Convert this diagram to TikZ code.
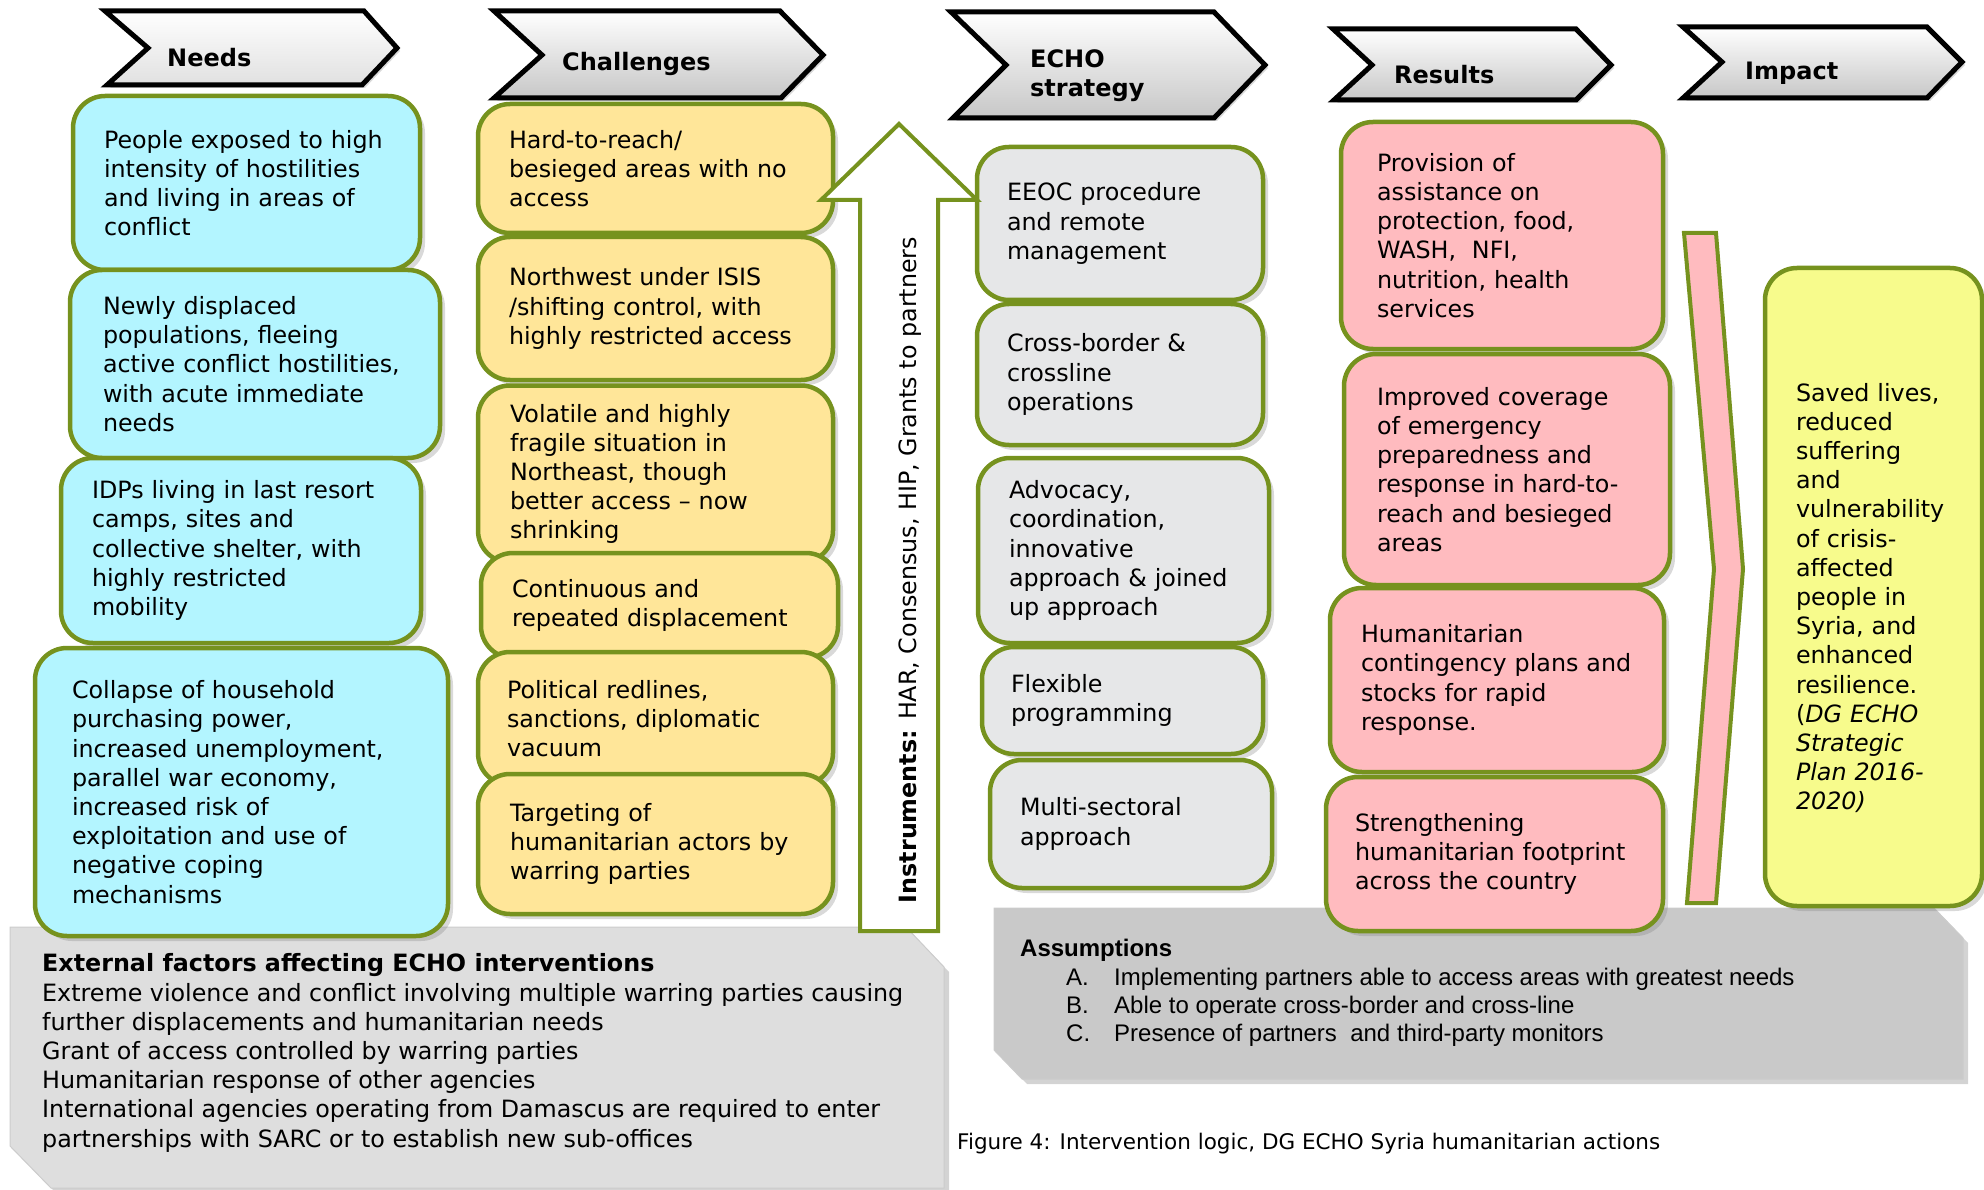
\documentclass[tikz,border=0pt]{standalone}
\usepackage{fontspec}
\setmainfont{DejaVu Sans}
\newfontfamily\arialfont{Liberation Sans}
\usetikzlibrary{positioning,shadows}
\definecolor{boxgreen}{HTML}{76921E}
\definecolor{needcyan}{HTML}{B3F5FF}
\definecolor{challyellow}{HTML}{FFE699}
\definecolor{stratgray}{HTML}{E6E7E8}
\definecolor{respink}{HTML}{FFBBBF}
\definecolor{impyellow}{HTML}{F7FB8C}
\definecolor{extgray}{HTML}{DEDEDE}
\definecolor{asmgray}{HTML}{C9C9C9}
\newcommand\boxfont{\fontsize{23.8}{29.2}\selectfont}
\tikzset{
  % rubriker
  hdr/.style={draw=black,line width=5pt,line join=miter,top color=white,
              bottom color=black!22,drop shadow={shadow xshift=3pt,shadow yshift=-3pt,opacity=.3}},
  hdrtxt/.style={font=\bfseries\fontsize{24}{29}\selectfont,inner sep=0pt,anchor=west,align=left},
  % rutor
  box/.style={draw=boxgreen,line width=4.5pt,rounded corners=32pt,align=left,
              font=\boxfont,inner ysep=0pt,
              drop shadow={shadow xshift=5pt,shadow yshift=-5pt,opacity=.3}},
  need/.style={box,fill=needcyan},
  chall/.style={box,fill=challyellow},
  strat/.style={box,fill=stratgray},
  res/.style={box,fill=respink},
  imp/.style={box,fill=impyellow},
  plate/.style={draw=black!20,line width=1pt,
                drop shadow={shadow xshift=5pt,shadow yshift=-5pt,opacity=.35}},
  instr/.style={draw=boxgreen,line width=4pt,fill=white,line join=miter},
  pinkarrow/.style={draw=boxgreen,line width=4pt,fill=respink,line join=miter},
  plaintxt/.style={font=\boxfont,inner sep=0pt,align=left},
}
\begin{document}
\begin{tikzpicture}[x=1pt,y=-1pt]
\useasboundingbox (0,0) rectangle (1984,1190);
% plattor nederst
\filldraw[plate,fill=extgray] (10,927) -- (906,927) -- (944,967) -- (944,1188)
  -- (51,1188) -- (10,1146) -- cycle;
\filldraw[plate,fill=asmgray] (994,908) -- (1934,908) -- (1963,938) -- (1963,1079)
  -- (1022,1079) -- (994,1050) -- cycle;
\node[plaintxt,anchor=west] (ext) at (42,1053)
  {\textbf{External factors affecting ECHO interventions}\\
   Extreme violence and conflict involving multiple warring parties causing\\
   further displacements and humanitarian needs\\
   Grant of access controlled by warring parties\\
   Humanitarian response of other agencies\\
   International agencies operating from Damascus are required to enter\\
   partnerships with SARC or to establish new sub-offices};
\node[plaintxt,anchor=west,font=\arialfont\fontsize{24}{28.2}\selectfont] (asm) at (1020,993)
  {\textbf{Assumptions}\\
   \hspace*{46pt}\makebox[48pt][l]{A.}Implementing partners able to access areas with greatest needs\\
   \hspace*{46pt}\makebox[48pt][l]{B.}Able to operate cross-border and cross-line\\
   \hspace*{46pt}\makebox[48pt][l]{C.}Presence of partners~ and third-party monitors};
% rubriker
\filldraw[hdr,bottom color=black!12] (105,11) -- (364,11) -- (397,48) -- (362,85) -- (107,85) -- (148,48) -- cycle;
\filldraw[hdr] (494,11) -- (780,11) -- (823,55) -- (781,98) -- (494,98) -- (542,55) -- cycle;
\filldraw[hdr] (951,12) -- (1214,12) -- (1265,65) -- (1214,118) -- (953,118) -- (1006,65) -- cycle;
\filldraw[hdr] (1333,29) -- (1576,29) -- (1611,65) -- (1576,100) -- (1334,100) -- (1372,65) -- cycle;
\filldraw[hdr] (1683,27) -- (1927,27) -- (1962,62) -- (1927,98) -- (1683,98) -- (1722,62) -- cycle;
\node[hdrtxt] (needs) at (167,58) {Needs};
\node[hdrtxt] (challenges) at (562,64) {Challenges};
\node[hdrtxt] (strategy) at (1030,76) {ECHO\\strategy};
\node[hdrtxt] (results) at (1394,75) {Results};
\node[hdrtxt] (impact) at (1745,73) {Impact};
% behov
\node[need,minimum width=347,minimum height=174,inner xsep=31pt,text width=285pt] (n1) at (246.5,183)
  {People exposed to high\\intensity of hostilities\\and living in areas of\\conflict};
\node[need,minimum width=370,minimum height=188,inner xsep=33pt,text width=304pt] (n2) at (255,364)
  {Newly displaced\\populations, fleeing\\active conflict hostilities,\\with acute immediate\\needs};
\node[need,minimum width=360,minimum height=185,inner xsep=31pt,text width=298pt] (n3) at (241,550.5)
  {IDPs living in last resort\\camps, sites and\\collective shelter, with\\highly restricted\\mobility};
\node[need,minimum width=413,minimum height=288,inner xsep=37pt,text width=339pt] (n4) at (241.5,792)
  {Collapse of household\\purchasing power,\\increased unemployment,\\parallel war economy,\\increased risk of\\exploitation and use of\\negative coping\\mechanisms};
% utmaningar
\node[chall,minimum width=355,minimum height=129,inner xsep=31pt,text width=293pt] (c1) at (655.5,168.5)
  {Hard-to-reach/\\besieged areas with no\\access};
\node[chall,minimum width=355,minimum height=143,inner xsep=31pt,text width=293pt] (c2) at (655.5,308.5)
  {Northwest under ISIS\\/shifting control, with\\highly restricted access};
\node[chall,minimum width=355,minimum height=177,inner xsep=32pt,text width=291pt] (c3) at (655.5,474)
  {Volatile and highly\\fragile situation in\\Northeast, though\\better access – now\\shrinking};
\node[chall,minimum width=357,minimum height=105,inner xsep=31pt,text width=295pt] (c4) at (659.5,605.5)
  {Continuous and\\repeated displacement};
\node[chall,minimum width=355,minimum height=133,inner xsep=29pt,text width=297pt] (c5) at (655.5,718.5)
  {Political redlines,\\sanctions, diplomatic\\vacuum};
\node[chall,minimum width=355,minimum height=140,inner xsep=32pt,text width=291pt] (c6) at (655.5,844)
  {Targeting of\\humanitarian actors by\\warring parties};
% strategi
\node[strat,minimum width=286,minimum height=153,inner xsep=30pt,text width=226pt] (s1) at (1120,223.5)
  {EEOC procedure\\and remote\\management};
\node[strat,minimum width=286,minimum height=141,inner xsep=30pt,text width=226pt] (s2) at (1120,374.5)
  {Cross-border \&\\crossline\\operations};
\node[strat,minimum width=291,minimum height=185,inner xsep=31pt,text width=229pt] (s3) at (1123.5,550.5)
  {Advocacy,\\coordination,\\innovative\\approach \& joined\\up approach};
\node[strat,minimum width=281,minimum height=107,inner xsep=29pt,text width=223pt] (s4) at (1122.5,700.5)
  {Flexible\\programming};
\node[strat,minimum width=282,minimum height=128,inner xsep=30pt,text width=222pt] (s5) at (1131,824)
  {Multi-sectoral\\approach};
% resultat
\node[res,minimum width=322,minimum height=227,inner xsep=36pt,text width=250pt] (r1) at (1502,235.5)
  {Provision of\\assistance on\\protection, food,\\WASH,~ NFI,\\nutrition, health\\services};
\node[res,minimum width=326,minimum height=231,inner xsep=33pt,text width=260pt] (r2) at (1507,469.5)
  {Improved coverage\\of emergency\\preparedness and\\response in hard-to-\\reach and besieged\\areas};
\node[res,minimum width=334,minimum height=184,inner xsep=31pt,text width=272pt] (r3) at (1497,680)
  {Humanitarian\\contingency plans and\\stocks for rapid\\response.};
\node[res,minimum width=337,minimum height=154,inner xsep=29pt,text width=279pt] (r4) at (1494.5,854)
  {Strengthening\\humanitarian footprint\\across the country};
% effekt
\filldraw[pinkarrow] (1684,233) -- (1716,233) -- (1743,569) -- (1716,903) -- (1687,903) -- (1714,569) -- cycle;
\node[imp,minimum width=217,minimum height=638,inner xsep=31pt,text width=155pt] (i1) at (1873.5,587)
  {\rule{0pt}{40pt}Saved lives,\\reduced\\suffering\\and\\vulnerability\\of crisis-\\affected\\people in\\Syria, and\\enhanced\\resilience.\\(\textit{DG ECHO}\\\textit{Strategic}\\\textit{Plan 2016-}\\\textit{2020)}};
% instrument
\filldraw[instr] (860,931) -- (860,200) -- (821,200) -- (899,124) -- (977,200) -- (938,200) -- (938,931) -- cycle;
\node[plaintxt,rotate=90] (instrtxt) at (910,570) {\textbf{Instruments:} HAR, Consensus, HIP, Grants to partners};
\node[anchor=west,inner sep=0pt,font=\fontsize{21.5}{26}\selectfont] (caption) at (957,1144)
  {Figure 4: Intervention logic, DG ECHO Syria humanitarian actions};
\end{tikzpicture}
\end{document}
